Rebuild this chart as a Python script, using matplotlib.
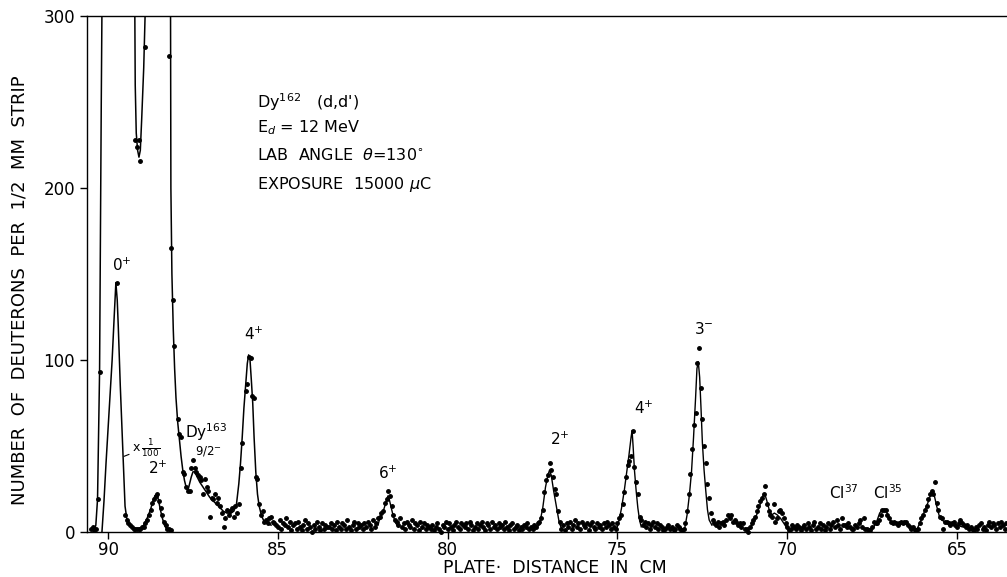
import numpy as np
import matplotlib.pyplot as plt

nan = np.nan

strip_start = 90.5
strip_width = 0.05
counts_rows = [
    [2, 3, 1, 2, 19, 93, nan, nan, nan, nan, nan, nan, nan, nan, nan, nan, nan, nan, nan, nan],
    [nan, nan, nan, nan, nan, nan, 228, 224, 228, 216, nan, nan, 282, nan, nan, nan, nan, nan, nan, nan],
    [nan, nan, nan, nan, nan, nan, 277, 165, 135, 108, nan, 66, 57, 55, 35, 34, 26, 24, 24, 37],
    [42, 37, 35, 33, 32, 30, 22, 31, 26, 24, 9, 20, 19, 22, 17, 20, 15, 11, 3, 8],
    [13, 10, 12, 14, 9, 15, 11, 16, 37, 52, nan, 82, 86, 102, 101, 79, 78, 32, 31, 16],
    [10, 12, 6, 7, 5, 8, 9, 6, 5, 4, 3, 7, 2, 5, 4, 8, 3, 6, 1, 4],
    [5, 2, 6, 3, 1, 4, 7, 2, 5, 3, 0, 4, 2, 6, 3, 1, 5, 2, 4, 3],
    [3, 5, 2, 4, 1, 6, 3, 2, 5, 4, 2, 7, 3, 1, 4, 6, 2, 5, 3, 4],
    [2, 5, 3, 6, 4, 2, 7, 3, 5, 8, 9, 11, 12, 17, 19, 24, 21, 15, 10, 7],
    [6, 4, 8, 3, 5, 2, 6, 4, 3, 7, 2, 5, 4, 1, 6, 3, 5, 2, 4, 3],
    [2, 4, 1, 3, 5, 2, 0, 4, 3, 6, 2, 5, 3, 1, 4, 6, 3, 2, 5, 4],
    [3, 5, 2, 6, 4, 1, 3, 5, 2, 4, 6, 3, 1, 5, 4, 2, 6, 3, 4, 2],
    [5, 3, 4, 2, 6, 3, 1, 4, 5, 2, 3, 4, 1, 3, 2, 4, 3, 5, 2, 3],
    [2, 4, 3, 5, 6, 8, 13, 23, 30, 33, 40, 36, 32, 25, 22, 12, 6, 2, 4, 1],
    [5, 3, 6, 2, 4, 7, 3, 5, 2, 6, 4, 3, 5, 1, 4, 6, 3, 2, 5, 3],
    [4, 2, 5, 3, 6, 4, 2, 5, 3, 2, 5, 8, 10, 16, 23, 32, 39, 41, 44, 59],
    [38, 29, 22, 9, 7, 4, 6, 3, 5, 2, 4, 6, 3, 5, 2, 4, 3, 1, 2, 3],
    [4, 2, 3, 1, 2, 4, 3, 2, 1, 2, 5, 12, 22, 34, 48, 62, 69, 98, 107, 84],
    [66, 50, 40, 28, 20, 11, 7, 5, 4, 6, 3, 5, 6, 4, 7, 10, 8, 10, 6, 7],
    [6, 4, 5, 3, 5, 2, 2, 0, 3, 5, 7, 9, 12, 15, 18, 20, 22, 27, 16, 12],
    [10, 9, 16, 6, 8, 12, 13, 11, 8, 5, 3, 1, 2, 4, 3, 2, 4, 3, 1, 3],
    [4, 2, 5, 3, 1, 4, 6, 2, 3, 5, 2, 4, 1, 3, 5, 2, 4, 6, 3, 7],
    [4, 2, 8, 4, 4, 3, 5, 3, 2, 2, 4, 3, 5, 7, 3, 8, 2, 2, 1, 1],
    [3, 6, 5, 5, 7, 10, 13, 13, 13, 10, 8, 6, 5, 6, 5, 4, 5, 6, 5, 6],
    [6, 4, 3, 2, 3, 1, 1, 2, 5, 8, 10, 13, 15, 19, 22, 24, 22, 29, 17, 13],
    [9, 8, 2, 6, 6, 5, 4, 5, 6, 4, 3, 5, 7, 5, 4, 3, 4, 2, 3, 2],
    [1, 3, 2, 4, 5, 2, 3, 1, 4, 6, 3, 5, 4, 2, 5, 3, 6, 4, 2, 5],
]
counts = np.array(sum(counts_rows, []), dtype=float)
plate_cm = strip_start - strip_width * np.arange(len(counts))

# elastic region plotted x 1/100
scaled_cm = [89.75, 89.50, 89.45, 89.40, 89.35, 89.30, 89.25, 89.20, 89.15, 89.10,
             89.05, 89.00, 88.95, 88.90, 88.85, 88.80, 88.75, 88.70, 88.65, 88.60,
             88.55, 88.50, 88.45, 88.40, 88.35, 88.30, 88.25, 88.20, 88.15]
scaled_counts = [145, 10, 7, 5, 4, 3, 2, 2, 2, 2,
                 2, 3, 3, 5, 7, 10, 13, 17, 19, 21,
                 22, 18, 14, 10, 6, 4, 2, 2, 1]

# hand-drawn curves
curve_scaled_cm = [90.18, 90.12, 90.06, 90.00, 89.94, 89.88, 89.82, 89.77, 89.73, 89.70,
                   89.64, 89.58, 89.54, 89.50, 89.45, 89.40, 89.35, 89.25, 89.15, 89.05,
                   88.95, 88.85, 88.75, 88.68, 88.62, 88.57, 88.52, 88.46, 88.40, 88.34,
                   88.28, 88.20]
curve_scaled = [0, 18, 40, 60, 80, 100, 125, 145, 135, 120,
                85, 55, 35, 15, 8, 5, 3, 2, 2, 2,
                4, 8, 13, 18, 21, 22, 19, 13, 8, 4,
                2, 1]

curve_full_cm = [90.42, 90.36, 90.31, 90.25, 90.20, 90.17, 89.22, 89.20, 89.17, 89.13,
                 89.09, 89.05, 89.01, 88.95, 88.91, 88.88, 88.17, 88.16, 88.15, 88.12,
                 88.08, 88.04, 88.00, 87.95, 87.90, 87.85, 87.80, 87.75, 87.70, 87.65,
                 87.60, 87.55, 87.50, 87.45, 87.40, 87.30, 87.20, 87.10, 87.00, 86.90,
                 86.80, 86.70, 86.60, 86.50, 86.40, 86.30, 86.22, 86.15, 86.10, 86.05,
                 86.00, 85.95, 85.90, 85.86, 85.82, 85.78, 85.74, 85.70, 85.65, 85.60,
                 85.55, 85.50, 85.45, 85.40, 85.30, 85.20]
curve_full = [0, 4, 19, 93, 250, 330, 330, 260, 232, 222,
              218, 222, 240, 270, 300, 330, 330, 300, 200, 150,
              118, 95, 78, 64, 54, 44, 36, 30, 26, 24,
              28, 32, 35, 35, 33, 29, 26, 23, 20, 18,
              16, 14, 12, 11, 11, 12, 16, 28, 40, 55,
              72, 85, 98, 103, 100, 88, 75, 55, 35, 22,
              15, 11, 8, 6, 5, 4]

peak_curves = [
    ([82.05, 82.00, 81.90, 81.82, 81.76, 81.72, 81.66, 81.60, 81.52, 81.45],
     [4, 8, 12, 17, 21, 19, 14, 9, 5, 3]),
    ([77.35, 77.28, 77.20, 77.12, 77.05, 77.00, 76.95, 76.88, 76.80, 76.72, 76.65],
     [3, 6, 14, 26, 33, 36, 33, 24, 15, 6, 2]),
    ([75.02, 74.95, 74.88, 74.80, 74.72, 74.66, 74.60, 74.57, 74.54, 74.50, 74.45, 74.40, 74.35, 74.30],
     [2, 7, 14, 24, 36, 45, 55, 59, 50, 36, 24, 14, 7, 3]),
    ([73.02, 72.95, 72.88, 72.82, 72.76, 72.70, 72.66, 72.62, 72.58, 72.54, 72.50, 72.45, 72.40, 72.35, 72.30, 72.22],
     [2, 10, 22, 35, 55, 78, 95, 99, 90, 72, 52, 36, 24, 13, 7, 4]),
    ([71.10, 71.00, 70.90, 70.80, 70.72, 70.66, 70.60, 70.52, 70.45, 70.38, 70.30, 70.20, 70.10, 70.00],
     [2, 6, 10, 16, 21, 22, 18, 12, 10, 11, 10, 8, 5, 2]),
    ([67.45, 67.35, 67.28, 67.20, 67.10, 67.02, 66.95, 66.85, 66.75, 66.60, 66.45, 66.30, 66.20, 66.10,
      66.00, 65.90, 65.82, 65.75, 65.68, 65.60, 65.52, 65.45, 65.30, 65.15, 65.00, 64.85, 64.70, 64.55],
     [3, 7, 11, 13, 13, 9, 6, 6, 5, 5, 4, 2, 1, 5,
      10, 15, 19, 24, 22, 15, 9, 7, 5, 4, 4, 3, 3, 2]),
]

peak_labels = [
    ("0$^{+}$", 89.60, 155), ("2$^{+}$", 88.53, 37), ("Dy$^{163}$", 87.12, 58),
    ("4$^{+}$", 85.70, 115), ("6$^{+}$", 81.76, 34), ("2$^{+}$", 76.70, 54),
    ("4$^{+}$", 74.22, 72), ("3$^{-}$", 72.45, 118), ("Cl$^{37}$", 68.32, 23),
    ("Cl$^{35}$", 67.05, 23),
]
info_lines = [
    ("Dy$^{162}$   (d,d')", 250),
    ("E$_{d}$ = 12 MeV", 235),
    ("LAB  ANGLE  $\\theta$=130$^{\\circ}$", 219),
    ("EXPOSURE  15000 $\\mu$C", 202),
]

fig = plt.figure(figsize=(10.07, 5.77), dpi=100)
ax = fig.add_axes([0.0864, 0.078, 0.9136, 0.894])

ax.plot(curve_full_cm, curve_full, color='black', lw=1.1)
ax.plot(curve_scaled_cm, curve_scaled, color='black', lw=1.1)
for xs, ys in peak_curves:
    ax.plot(xs, ys, color='black', lw=1.0)

ax.plot(plate_cm, counts, 'o', color='black', ms=2.5, clip_on=False)
ax.plot(scaled_cm, scaled_counts, 'o', color='black', ms=2.5, clip_on=False)

for txt, x, y in peak_labels:
    ax.text(x, y, txt, fontsize=11, ha='center', va='center')
ax.text(87.06, 47, "9/2$^{-}$", fontsize=8.5, ha='center', va='center')
ax.annotate("x$\\,\\frac{1}{100}$", xy=(89.53, 44), xytext=(89.30, 49),
            fontsize=9, ha='left', va='center',
            arrowprops=dict(arrowstyle='-', lw=0.8, color='black', shrinkA=0, shrinkB=0))

for txt, y in info_lines:
    ax.text(85.6, y, txt, fontsize=11.5, ha='left', va='center')

ax.set_xlim(90.62, 63.53)
ax.set_ylim(0, 300)
ax.set_xticks([90, 85, 80, 75, 70, 65])
ax.set_yticks([0, 100, 200, 300])
ax.tick_params(axis='both', direction='out', length=5, width=1, labelsize=12, colors='black')
ax.tick_params(axis='x', pad=1.5)
ax.spines['right'].set_visible(False)
for s in ['left', 'top', 'bottom']:
    ax.spines[s].set_linewidth(1.0)

fig.text(20 / 1007, 1 - 290 / 577, "NUMBER  OF  DEUTERONS  PER  1/2  MM  STRIP",
         rotation=90, fontsize=13, ha='center', va='center')
fig.text(555 / 1007, 1 - 568 / 577, "PLATE\u00b7  DISTANCE  IN  CM",
         fontsize=12.5, ha='center', va='center')

fig.savefig('out.png', dpi=100)
